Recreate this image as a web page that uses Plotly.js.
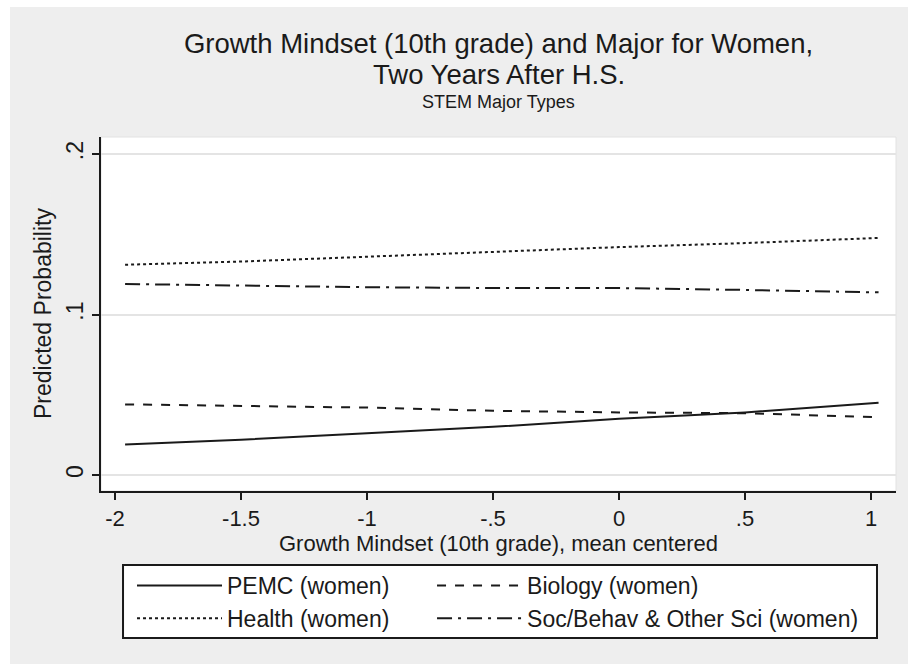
<!DOCTYPE html>
<html>
<head>
<meta charset="utf-8">
<script src="https://cdn.plot.ly/plotly-3.0.1.min.js"></script>
<style>
html, body { margin: 0; padding: 0; background: #ffffff; }
#chart { position: absolute; left: 10px; top: 7px; width: 898px; height: 657px; }
</style>
</head>
<body>
<div id="chart"></div>
<script>
// Data
const growthMindset = [-1.96, -1.5, -1.0, -0.5, 0.0, 0.5, 1.03];
const pemcWomen     = [0.019, 0.022, 0.026, 0.030, 0.035, 0.039, 0.045];
const biologyWomen  = [0.044, 0.043, 0.042, 0.040, 0.039, 0.0385, 0.036];
const healthWomen   = [0.131, 0.133, 0.136, 0.139, 0.142, 0.1445, 0.1477];
const socBehavWomen = [0.119, 0.118, 0.117, 0.1165, 0.1165, 0.1153, 0.1138];

const seriesNames = ["PEMC (women)", "Biology (women)", "Health (women)", "Soc/Behav & Other Sci (women)"];
const xTickVals = [-2, -1.5, -1, -0.5, 0, 0.5, 1];
const xTickText = ["-2", "-1.5", "-1", "-.5", "0", ".5", "1"];
const yTickVals = [0, 0.1, 0.2];
const yTickText = ["0", ".1", ".2"];

const FONT = "Liberation Sans, Arial, sans-serif";
const INK = "#1a1a1a";

function line(y, name, dash, legendId) {
  return {
    x: growthMindset, y: y, name: name, type: "scatter", mode: "lines",
    legend: legendId,
    line: { color: INK, width: 2, dash: dash }
  };
}

const traces = [
  line(pemcWomen, seriesNames[0], "solid", "legend"),
  line(biologyWomen, seriesNames[1], "dash", "legend2"),
  line(healthWomen, seriesNames[2], "dot", "legend"),
  line(socBehavWomen, seriesNames[3], "longdashdot", "legend2")
];

const legendCommon = {
  orientation: "v",
  yanchor: "top", xanchor: "left",
  y: -0.2062,
  bgcolor: "rgba(0,0,0,0)", borderwidth: 0,
  font: { family: FONT, size: 23, color: INK },
  itemwidth: 85,
  traceorder: "normal"
};

const layout = {
  width: 898, height: 657,
  margin: { l: 91, r: 12, t: 130, b: 173 },
  paper_bgcolor: "#eeeeee",
  plot_bgcolor: "#ffffff",
  font: { family: FONT, color: INK, size: 22 },
  title: {
    text: "Growth Mindset (10th grade) and Major for Women,",
    font: { family: FONT, size: 27.5, color: INK },
    x: 0.5, xref: "paper", xanchor: "center",
    y: 1 - 36 / 657, yref: "container", yanchor: "middle"
  },
  xaxis: {
    range: [-2.0556, 1.0992],
    tickvals: xTickVals, ticktext: xTickText,
    showline: true, linecolor: INK, linewidth: 2,
    ticks: "outside", ticklen: 7, tickwidth: 2, tickcolor: INK,
    showgrid: false, zeroline: false,
    tickfont: { family: FONT, size: 22, color: INK },
    ticklabelstandoff: 0
  },
  yaxis: {
    range: [-0.00997, 0.2106],
    tickvals: yTickVals, ticktext: yTickText,
    tickangle: -90,
    showline: true, linecolor: INK, linewidth: 2,
    ticks: "outside", ticklen: 7, tickwidth: 2, tickcolor: INK,
    showgrid: true, gridcolor: "#e4e4e4", gridwidth: 2,
    zeroline: false,
    tickfont: { family: FONT, size: 23, color: INK }
  },
  showlegend: true,
  legend: Object.assign({}, legendCommon, { x: 0.039 }),
  legend2: Object.assign({}, legendCommon, { x: 0.4164 }),
  shapes: [
    {
      type: "rect", xref: "paper", yref: "paper", layer: "below",
      x0: 0.0277, x1: 0.9761, y0: -0.4153, y1: -0.209,
      line: { color: INK, width: 2 }, fillcolor: "#ffffff"
    },
    {
      type: "rect", xref: "paper", yref: "paper", layer: "below",
      x0: 0, x1: 1, y0: 0, y1: 1,
      line: { color: "#e2e2e2", width: 1 }, fillcolor: "rgba(0,0,0,0)"
    }
  ],
  annotations: [
    {
      text: "Two Years After H.S.", showarrow: false,
      xref: "paper", yref: "paper", x: 0.5, xanchor: "center",
      y: 1 + 62 / 354, yanchor: "middle",
      font: { family: FONT, size: 27.5, color: INK }
    },
    {
      text: "STEM Major Types", showarrow: false,
      xref: "paper", yref: "paper", x: 0.5, xanchor: "center",
      y: 1 + 35 / 354, yanchor: "middle",
      font: { family: FONT, size: 18, color: INK }
    },
    {
      text: "Growth Mindset (10th grade), mean centered", showarrow: false,
      xref: "paper", yref: "paper", x: 0.5, xanchor: "center",
      y: -52 / 354, yanchor: "middle",
      font: { family: FONT, size: 22, color: INK }
    },
    {
      text: "Predicted Probability", showarrow: false, textangle: -90,
      xref: "paper", yref: "paper", x: -58 / 795, xanchor: "center",
      y: 0.5, yanchor: "middle",
      font: { family: FONT, size: 23, color: INK }
    }
  ]
};

Plotly.newPlot("chart", traces, layout, { displayModeBar: false, staticPlot: true });
</script>
</body>
</html>
